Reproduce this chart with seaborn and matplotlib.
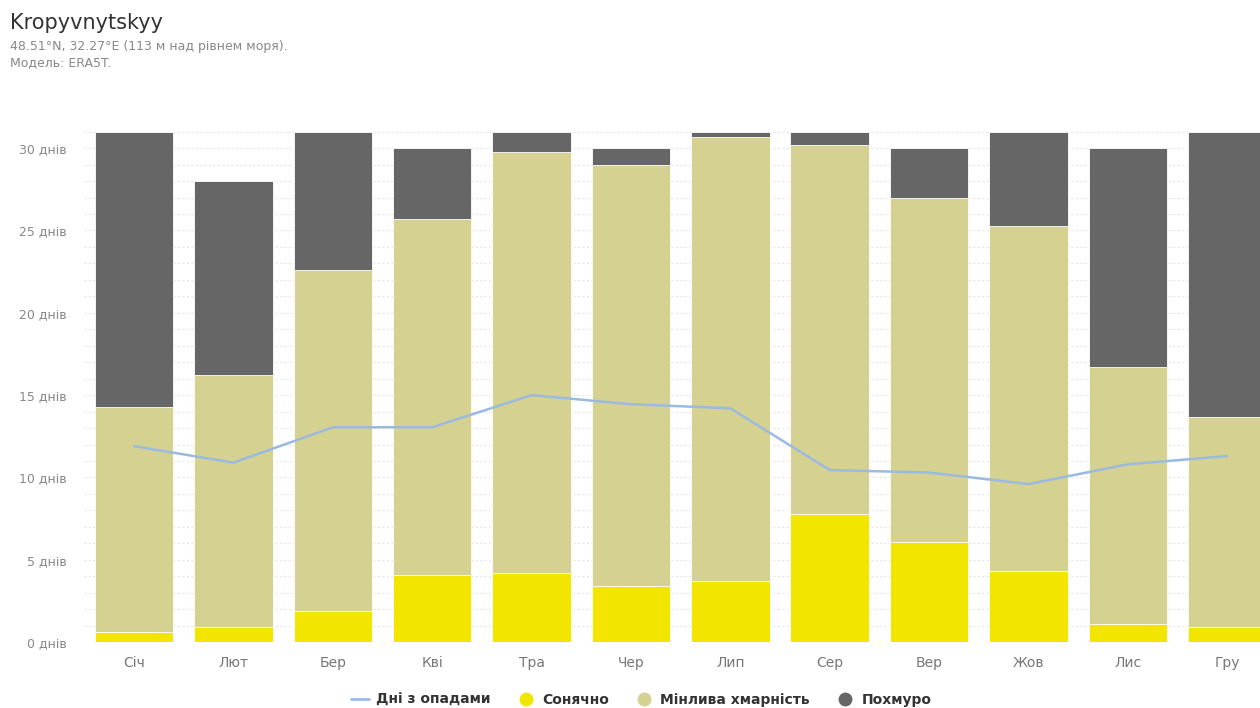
import numpy as np
import pandas as pd
import matplotlib
matplotlib.use('Agg')
import matplotlib.pyplot as plt
from matplotlib.lines import Line2D
import seaborn as sns

# Monthly data (days)
months = ['Січ', 'Лют', 'Бер', 'Кві', 'Тра', 'Чер', 'Лип', 'Сер', 'Вер', 'Жов', 'Лис', 'Гру']
sunny = [0.6, 0.9, 1.9, 4.1, 4.2, 3.4, 3.7, 7.8, 6.1, 4.3, 1.1, 0.9]
partly = [13.7, 15.3, 20.7, 21.6, 25.55, 25.6, 27.0, 22.4, 20.9, 21.0, 15.6, 12.8]
overcast = [16.7, 11.8, 8.4, 4.3, 1.25, 1.0, 0.3, 0.8, 3.0, 5.7, 13.3, 17.3]
precip = [11.9, 10.9, 13.05, 13.05, 15.0, 14.45, 14.2, 10.45, 10.3, 9.6, 10.8, 11.3]

df = pd.DataFrame({'month': months, 'sunny': sunny, 'partly': partly,
                   'overcast': overcast, 'precip': precip})
df['cum_partly'] = df['sunny'] + df['partly']
df['total'] = df['cum_partly'] + df['overcast']

c_sun = '#F2E500'
c_partly = '#D5D190'
c_over = '#666666'
c_line = '#9BBAE0'

sns.set_style('white')
plt.rcParams['font.family'] = ['DejaVu Sans']

fig = plt.figure(figsize=(12.6, 7.08), dpi=100)
ax = fig.add_axes([0.067, 0.093, 0.933, 0.735])

# stacked bars drawn as layered cumulative totals
sns.barplot(data=df, x='month', y='total', color=c_over, width=0.79,
            saturation=1, edgecolor='white', linewidth=0.6, ax=ax, zorder=2)
sns.barplot(data=df, x='month', y='cum_partly', color=c_partly, width=0.79,
            saturation=1, edgecolor='white', linewidth=0.6, ax=ax, zorder=3)
sns.barplot(data=df, x='month', y='sunny', color=c_sun, width=0.79,
            saturation=1, edgecolor='white', linewidth=0.6, ax=ax, zorder=4)

sns.lineplot(x=np.arange(len(months)), y=df['precip'], color=c_line,
             linewidth=1.8, ax=ax, zorder=5)

ax.set_xlim(-0.5, 11.33)
ax.set_ylim(0, 31.6)
ax.set_yticks(np.arange(0, 31, 5))
ax.set_yticklabels([f'{v} днів' for v in range(0, 31, 5)], color='#888888', fontsize=9)
ax.set_yticks(np.arange(0, 32, 1), minor=True)
ax.yaxis.grid(True, which='both', color='#e6e6e6', linestyle=(0, (2, 2)), linewidth=0.8, zorder=0)
ax.set_axisbelow(True)
ax.tick_params(axis='x', colors='#777777', labelsize=10, length=0, pad=10)
ax.tick_params(axis='y', length=0, pad=13, which='both')
ax.set_xlabel('')
ax.set_ylabel('')
for s in ax.spines.values():
    s.set_visible(False)

fig.text(0.008, 0.968, 'Kropyvnytskyy', fontsize=15, color='#333333', va='center')
fig.text(0.008, 0.935, '48.51°N, 32.27°E (113 м над рівнем моря).', fontsize=9,
         color='#888888', va='center')
fig.text(0.008, 0.912, 'Модель: ERA5T.', fontsize=9, color='#888888', va='center')

handles = [
    Line2D([0], [0], color=c_line, lw=2),
    Line2D([0], [0], marker='o', color='w', markerfacecolor=c_sun, markersize=11),
    Line2D([0], [0], marker='o', color='w', markerfacecolor=c_partly, markersize=11),
    Line2D([0], [0], marker='o', color='w', markerfacecolor=c_over, markersize=11),
]
labels = ['Дні з опадами', 'Сонячно', 'Мінлива хмарність', 'Похмуро']
leg = fig.legend(handles, labels, loc='center', bbox_to_anchor=(0.509, 0.012), ncol=4,
                 frameon=False, handlelength=1.3, handletextpad=0.5, columnspacing=1.9,
                 prop={'weight': 'bold', 'size': 10})
for t in leg.get_texts():
    t.set_color('#333333')

fig.savefig('out.png', dpi=100)
